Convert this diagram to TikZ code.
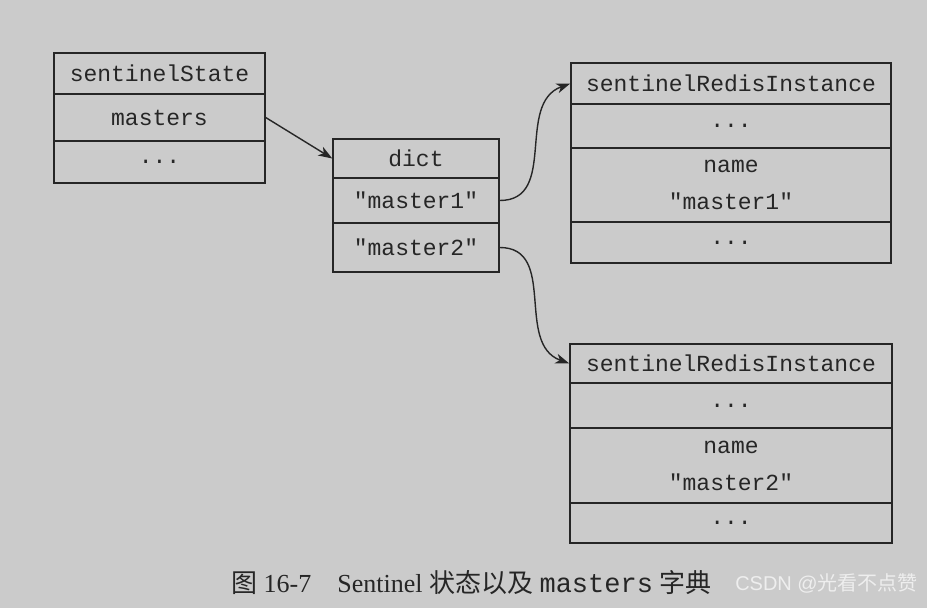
\documentclass[tikz,border=0pt]{standalone}
\usepackage{fontspec}
\setmainfont{Liberation Serif}
\setmonofont{Liberation Mono}
\newfontfamily\cjk{Noto Sans CJK SC}
\newfontfamily\wmfont{Liberation Sans}
\usetikzlibrary{arrows.meta}

\definecolor{paper}{HTML}{CBCBCB}
\definecolor{ink}{HTML}{262626}
\definecolor{wmark}{HTML}{EEEEEE}

\tikzset{
  cell/.style={draw=ink, line width=1.4pt, fill=paper, text=ink, inner sep=0pt,
    font=\ttfamily\fontsize{23}{37}\selectfont, align=center},
  link/.style={ink, line width=1.4pt, -{Stealth[length=14pt,width=10pt,inset=4pt]}},
}

\begin{document}
\begin{tikzpicture}[x=1pt,y=-1pt]

%% background
\fill[paper] (0,0) rectangle (927,608);
\useasboundingbox (0,0) rectangle (927,608);

%% sentinelState
\node[cell, minimum width=211pt, minimum height=41pt] (stTitle)   at (159.5,73.5) {sentinelState};
\node[cell, minimum width=211pt, minimum height=47pt] (stMasters) at (159.5,117.5) {masters};
\node[cell, minimum width=211pt, minimum height=42pt] (stRest)    at (159.5,162) {...};

%% dict
\node[cell, minimum width=166pt, minimum height=39pt] (dictTitle) at (416,158.5) {dict};
\node[cell, minimum width=166pt, minimum height=45pt] (dictOne)   at (416,200.5) {"master1"};
\node[cell, minimum width=166pt, minimum height=49pt] (dictTwo)   at (416,247.5) {"master2"};

%% sentinelRedisInstance, master1
\node[cell, minimum width=320pt, minimum height=41pt] (oneTitle) at (731,83.5) {sentinelRedisInstance};
\node[cell, minimum width=320pt, minimum height=44pt] (oneTop)   at (731,126) {...};
\node[cell, minimum width=320pt, minimum height=74pt] (oneName)  at (731,185) {name\\"master1"};
\node[cell, minimum width=320pt, minimum height=41pt] (oneRest)  at (731,242.5) {...};

%% sentinelRedisInstance, master2
\node[cell, minimum width=322pt, minimum height=39pt] (twoTitle) at (731,363.5) {sentinelRedisInstance};
\node[cell, minimum width=322pt, minimum height=45pt] (twoTop)   at (731,405.5) {...};
\node[cell, minimum width=322pt, minimum height=75pt] (twoName)  at (731,465.5) {name\\"master2"};
\node[cell, minimum width=322pt, minimum height=40pt] (twoRest)  at (731,523) {...};

%% pointers
\draw[link] (stMasters.east) -- (dictTitle.west);
\draw[link] (dictOne.east) to[out=0, in=200, looseness=1.1] (oneTitle.west);
\draw[link] (dictTwo.east) to[out=0, in=160, looseness=1.1] (twoTitle.west);

%% caption
\node[anchor=west, inner sep=0pt, text=ink, font=\fontsize{26}{30}\selectfont] (caption) at (231,583)
  {{\cjk 图} 16-7\hspace{26pt}Sentinel {\cjk 状态以及} {\ttfamily\fontsize{27}{30}\selectfont masters} {\cjk 字典}};
\node[anchor=east, inner sep=0pt, text=wmark, font=\wmfont\fontsize{20}{24}\selectfont] (watermark) at (918,583)
  {CSDN @{\cjk 光看不点赞}};

\end{tikzpicture}
\end{document}
